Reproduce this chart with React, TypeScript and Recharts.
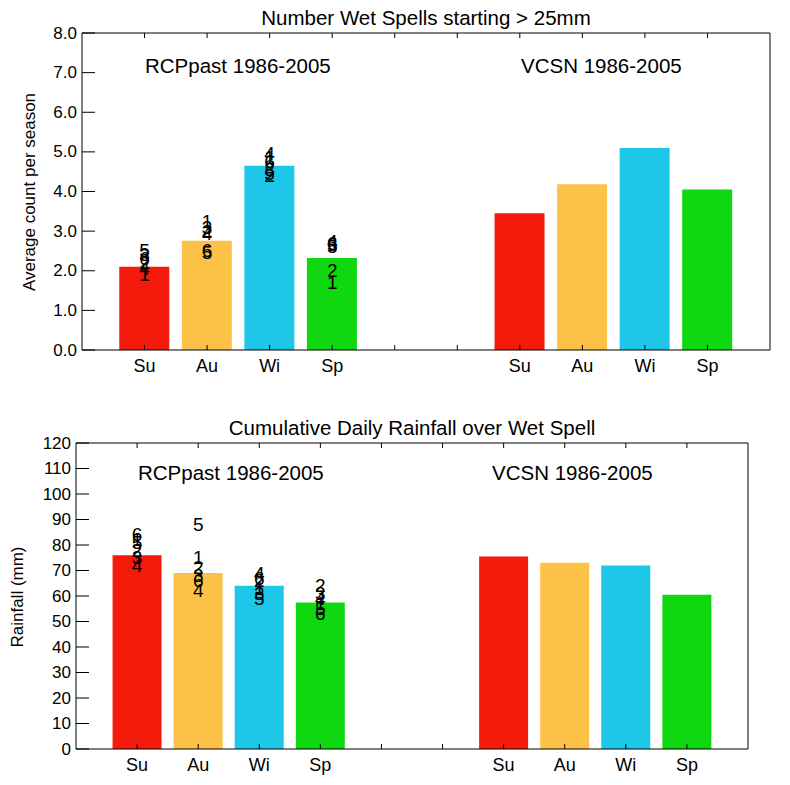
import React from 'react';
import { ComposedChart, Bar, Cell, Scatter, XAxis, YAxis } from 'recharts';

const seasons = ['Su', 'Au', 'Wi', 'Sp'];
const seasonColors = ['#f41a0c', '#fcc248', '#1ec6e8', '#10d810'];
const models = ['1', '2', '3', '4', '5', '6'];

// Number of wet spells starting > 25mm (Su, Au, Wi, Sp)
const spellsRcp = [2.1, 2.76, 4.65, 2.32];
const spellsVcsn = [3.45, 4.18, 5.1, 4.05];
const spellsModel1 = [1.9, 3.25, 4.85, 1.7];
const spellsModel2 = [2.2, 3.0, 4.4, 2.0];
const spellsModel3 = [2.4, 3.1, 4.55, 2.65];
const spellsModel4 = [2.05, 2.95, 4.95, 2.75];
const spellsModel5 = [2.5, 2.45, 4.45, 2.62];
const spellsModel6 = [2.3, 2.5, 4.75, 2.7];
const spellsTicks = [0, 1, 2, 3, 4, 5, 6, 7, 8];

// Cumulative daily rainfall over wet spell, mm
const rainRcp = [76, 69, 64, 57.5];
const rainVcsn = [75.5, 73, 72, 60.5];
const rainModel1 = [82, 75, 63, 57];
const rainModel2 = [78, 71, 66, 64];
const rainModel3 = [75, 68, 61, 61];
const rainModel4 = [72, 62, 69, 59];
const rainModel5 = [81, 88, 59, 55];
const rainModel6 = [84, 66, 67, 53];
const rainTicks = [0, 10, 20, 30, 40, 50, 60, 70, 80, 90, 100, 110, 120];

const slotTicks = [1, 2, 3, 4, 5, 6, 7, 8, 9, 10];
const FONT = '"Liberation Sans", Arial, Helvetica, sans-serif';

const seasonAt = (x: number) => {
  if (x >= 1 && x <= 4) return seasons[x - 1];
  if (x >= 7 && x <= 10) return seasons[x - 7];
  return '';
};

const LeftTick = (p: any) => (
  <g>
    <line x1={p.x} x2={p.x + 13} y1={p.y} y2={p.y} stroke="#000" />
    <text x={p.x - 5} y={p.y} textAnchor="end" dominantBaseline="central" fontSize={17} fontFamily={FONT} fill="#000">
      {p.fmt(p.payload.value)}
    </text>
  </g>
);

const RightTick = (p: any) => <line x1={p.x} x2={p.x - 14} y1={p.y} y2={p.y} stroke="#000" />;

const BottomTick = (p: any) => (
  <g>
    <line x1={p.x} x2={p.x} y1={p.y} y2={p.y - 5} stroke="#000" />
    <text x={p.x} y={p.y + 16} textAnchor="middle" dominantBaseline="central" fontSize={18} fontFamily={FONT} fill="#000">
      {seasonAt(p.payload.value)}
    </text>
  </g>
);

const TopTick = (p: any) => <line x1={p.x} x2={p.x} y1={p.y} y2={p.y + 5} stroke="#000" />;

interface PanelProps {
  top: number;
  height: number;
  margin: { top: number; right: number; bottom: number; left: number };
  title: string;
  titleX: number;
  titleY: number;
  yLabel: string;
  yLabelX: number;
  yLabelY: number;
  rcp: number[];
  vcsn: number[];
  modelValues: number[][];
  ticks: number[];
  fmt: (v: number) => string;
  barSize: number;
  labelY: number;
  rcpLabelX: number;
  vcsnLabelX: number;
}

const Panel: React.FC<PanelProps> = (props) => {
  const rows = [
    ...seasons.map((s, i) => ({ x: i + 1, season: s, value: props.rcp[i] })),
    ...seasons.map((s, i) => ({ x: i + 7, season: s, value: props.vcsn[i] })),
  ];
  const yMax = props.ticks[props.ticks.length - 1];
  const text: React.CSSProperties = { position: 'absolute', fontFamily: FONT, fontSize: 20.5, color: '#000', whiteSpace: 'nowrap' };

  return (
    <div style={{ position: 'absolute', left: 0, top: props.top, width: 790, height: props.height }}>
      <ComposedChart width={790} height={props.height} data={rows} margin={props.margin}>
        <XAxis dataKey="x" type="number" domain={[0, 11]} ticks={slotTicks} interval={0} height={30}
          tickSize={0} tickMargin={0} tick={(p: any) => <BottomTick {...p} />} stroke="#000" />
        <XAxis xAxisId="top" dataKey="x" type="number" orientation="top" domain={[0, 11]} ticks={slotTicks}
          interval={0} height={1} tickSize={0} tickMargin={0} tick={(p: any) => <TopTick {...p} />} stroke="#000" />
        <YAxis type="number" domain={[0, yMax]} ticks={props.ticks} interval={0} width={50} tickSize={0}
          tickMargin={0} tick={(p: any) => <LeftTick {...p} fmt={props.fmt} />} stroke="#000" />
        <YAxis yAxisId="right" orientation="right" type="number" domain={[0, yMax]} ticks={props.ticks}
          interval={0} width={1} tickSize={0} tickMargin={0} tick={(p: any) => <RightTick {...p} />} stroke="#000" />
        <Bar dataKey="value" barSize={props.barSize} isAnimationActive={false}>
          {rows.map((r, i) => (
            <Cell key={i} fill={seasonColors[seasons.indexOf(r.season)]} />
          ))}
        </Bar>
        {models.map((m, mi) => (
          <Scatter
            key={m}
            dataKey="value"
            data={seasons.map((s, i) => ({ x: i + 1, value: props.modelValues[mi][i] }))}
            isAnimationActive={false}
            shape={(sp: any) => (
              <text x={sp.cx} y={sp.cy} textAnchor="middle" dominantBaseline="central" fontSize={19}
                fontFamily={FONT} fill="#000">
                {m}
              </text>
            )}
          />
        ))}
      </ComposedChart>
      <div style={{ ...text, left: props.titleX, top: props.titleY, transform: 'translate(-50%, -50%)' }}>{props.title}</div>
      <div style={{ ...text, left: props.rcpLabelX, top: props.labelY, transform: 'translateY(-50%)' }}>RCPpast 1986-2005</div>
      <div style={{ ...text, left: props.vcsnLabelX, top: props.labelY, transform: 'translateY(-50%)' }}>VCSN 1986-2005</div>
      <div style={{ ...text, fontSize: 17, left: props.yLabelX, top: props.yLabelY, transform: 'translate(-50%, -50%) rotate(-90deg)' }}>
        {props.yLabel}
      </div>
    </div>
  );
};

export default function App() {
  return (
    <div style={{ position: 'absolute', left: 0, top: 0, width: 790, height: 785, background: '#fff', overflow: 'hidden' }}>
      <Panel
        top={0}
        height={400}
        margin={{ top: 32, right: 19, bottom: 20, left: 32 }}
        title="Number Wet Spells starting > 25mm"
        titleX={426}
        titleY={18}
        yLabel="Average count per season"
        yLabelX={30}
        yLabelY={192}
        rcp={spellsRcp}
        vcsn={spellsVcsn}
        modelValues={[spellsModel1, spellsModel2, spellsModel3, spellsModel4, spellsModel5, spellsModel6]}
        ticks={spellsTicks}
        fmt={(v) => v.toFixed(1)}
        barSize={50}
        labelY={66}
        rcpLabelX={145}
        vcsnLabelX={521}
      />
      <Panel
        top={400}
        height={385}
        margin={{ top: 42, right: 41, bottom: 6, left: 26 }}
        title="Cumulative Daily Rainfall over Wet Spell"
        titleX={412}
        titleY={28}
        yLabel="Rainfall (mm)"
        yLabelX={18}
        yLabelY={197}
        rcp={rainRcp}
        vcsn={rainVcsn}
        modelValues={[rainModel1, rainModel2, rainModel3, rainModel4, rainModel5, rainModel6]}
        ticks={rainTicks}
        fmt={(v) => String(v)}
        barSize={49}
        labelY={73}
        rcpLabelX={138}
        vcsnLabelX={492}
      />
    </div>
  );
}
